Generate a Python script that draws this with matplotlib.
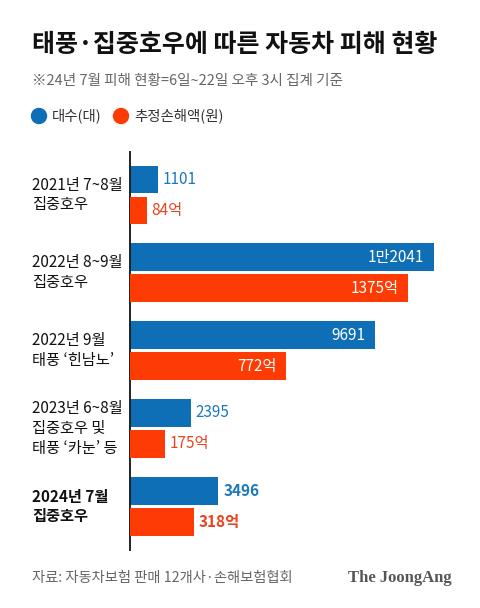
import numpy as np
import matplotlib
matplotlib.use("Agg")
import matplotlib.pyplot as plt
import matplotlib.transforms as mtrans
from matplotlib.patches import Ellipse

plt.rcParams['font.family'] = ['Noto Sans CJK KR', 'DejaVu Sans']

# data
categories = ["2021년 7~8월\n집중호우", "2022년 8~9월\n집중호우", "2022년 9월\n태풍 ‘힌남노’",
              "2023년 6~8월\n집중호우 및\n태풍 ‘카눈’ 등", "2024년 7월\n집중호우"]
cars = [1101, 12041, 9691, 2395, 3496]            # 대수(대)
damage = [84, 1375, 772, 175, 318]                # 추정손해액(억원)
car_labels = ["1101", "1만2041", "9691", "2395", "3496"]
damage_labels = ["84억", "1375억", "772억", "175억", "318억"]
inside = [False, True, True, False, False]
bold = [False, False, False, False, True]

BLUE = "#0f6fb6"
RED = "#ff3b05"
BLUE_TXT = "#1a78bd"
RED_TXT = "#ea4320"

W, H = 480, 608
fig = plt.figure(figsize=(W / 100, H / 100), dpi=100)
fig.patch.set_facecolor("white")

def fx(px):
    return px / W

def fy(py):
    return 1 - py / H

ax = fig.add_axes([fx(130), fy(550), fx(460) - fx(130), (550 - 152) / H])
ax2 = ax.twiny()

y = np.arange(len(categories))
h = 0.353
off = 0.199

ax.barh(y - off, cars, height=h, color=BLUE)
ax2.barh(y + off, damage, height=h, color=RED)

ax.set_xlim(0, 12041 * 330 / 304.5)
ax2.set_xlim(0, 1375 * 330 / 278.5)
ax.set_ylim(4.56, -0.55)
ax2.set_ylim(4.56, -0.55)

for a in (ax, ax2):
    for s in a.spines.values():
        s.set_visible(False)
    a.set_xticks([])
    a.set_yticks([])
    a.patch.set_visible(False)
ax.spines["left"].set_visible(True)
ax.spines["left"].set_linewidth(1.4)
ax.spines["left"].set_color("#222222")

# value labels
for i in range(len(categories)):
    fw = "bold" if bold[i] else "normal"
    if inside[i]:
        ax.annotate(car_labels[i], (cars[i], y[i] - off), xytext=(-10, 0),
                    textcoords="offset pixels", ha="right", va="center",
                    color="white", fontsize=11, fontweight=fw)
        ax2.annotate(damage_labels[i], (damage[i], y[i] + off), xytext=(-10, 0),
                     textcoords="offset pixels", ha="right", va="center",
                     color="white", fontsize=11, fontweight=fw)
    else:
        ax.annotate(car_labels[i], (cars[i], y[i] - off), xytext=(5, 0),
                    textcoords="offset pixels", ha="left", va="center",
                    color=BLUE_TXT, fontsize=11, fontweight=fw)
        ax2.annotate(damage_labels[i], (damage[i], y[i] + off), xytext=(4, 0),
                     textcoords="offset pixels", ha="left", va="center",
                     color=RED_TXT, fontsize=11, fontweight=fw)

# category labels
tr = mtrans.blended_transform_factory(fig.transFigure, ax.transData)
for i, c in enumerate(categories):
    ax.text(fx(32), y[i], c, transform=tr, ha="left", va="center",
            fontsize=11, linespacing=1.2, color="#111111",
            fontweight="bold" if bold[i] else "normal")

# title / subtitle
fig.text(fx(32), fy(45), "태풍·집중호우에 따른 자동차 피해 현황", fontsize=18,
         fontweight="heavy", ha="left", va="center", color="#111111")
fig.text(fx(32), fy(81), "※24년 7월 피해 현황=6일~22일 오후 3시 집계 기준", fontsize=10.5,
         ha="left", va="center", color="#666666")

# legend
fig.patches.append(Ellipse((fx(39), fy(116)), 15 / W, 15 / H, transform=fig.transFigure,
                           color=BLUE, figure=fig))
fig.text(fx(52), fy(116), "대수(대)", fontsize=10.4, ha="left", va="center", color="#333333")
fig.patches.append(Ellipse((fx(121), fy(116)), 15 / W, 15 / H, transform=fig.transFigure,
                           color=RED, figure=fig))
fig.text(fx(134), fy(116), "추정손해액(원)", fontsize=10.4, ha="left", va="center", color="#333333")

# footer
fig.text(fx(32), fy(578), "자료: 자동차보험 판매 12개사·손해보험협회", fontsize=10.3,
         ha="left", va="center", color="#666666")
fig.text(fx(452), fy(578), "The JoongAng", fontsize=12, fontweight="bold",
         family="Liberation Serif", ha="right", va="center", color="#555555")

fig.savefig("out.png", dpi=100)
